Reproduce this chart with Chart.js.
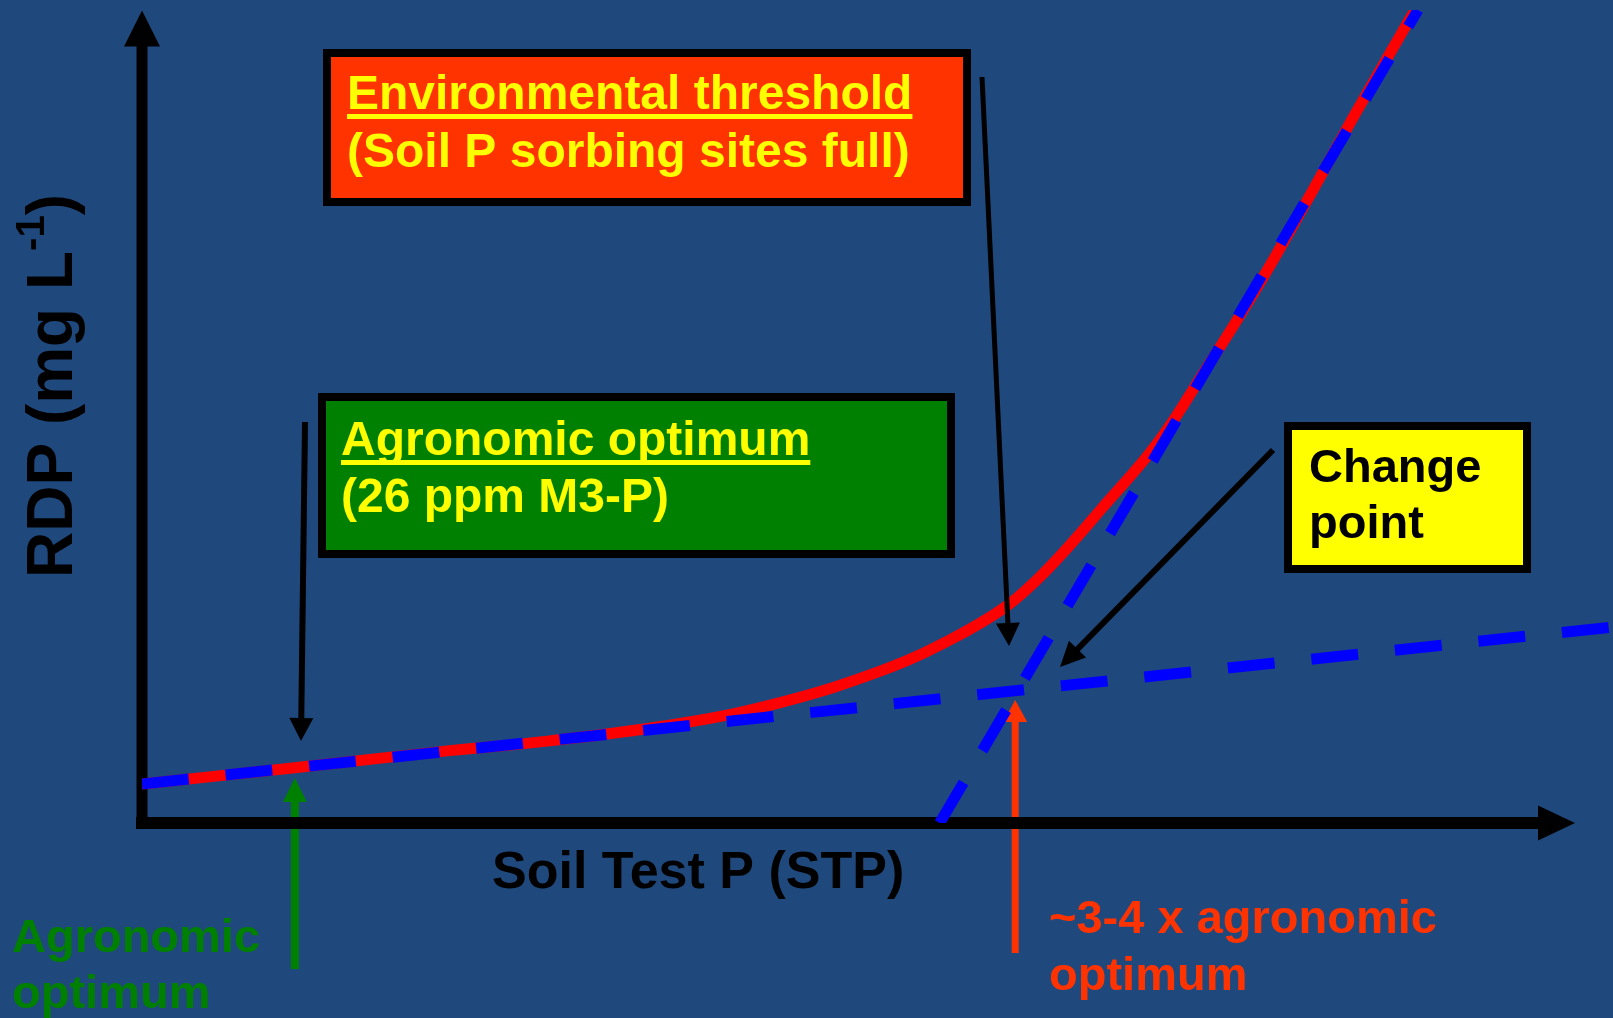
<!DOCTYPE html>
<html>
<head>
<meta charset="utf-8">
<script src="https://cdn.jsdelivr.net/npm/chart.js@4"></script>
<style>
  html, body { margin: 0; padding: 0; background: #1F497D; }
  canvas { display: block; }
</style>
</head>
<body>
<canvas id="c" width="1613" height="1018"></canvas>
<script>
// ---- Data (arbitrary conceptual units) ----
const curveX = [0, 15.6, 31.4, 41.6, 55.2, 65.4, 75.6, 82.4, 87.9, 91.3, 94.7, 97.8, 103.6, 108.7, 113.8, 118.9, 123.6, 129.9];
const curveY = [4.8, 6.8, 8.9, 10.1, 12.3, 14.9, 18.8, 22.5, 26.4, 29.9, 34.2, 38.5, 46.7, 56.1, 65.9, 76.6, 86.8, 100];
const lowerLineX = [0, 150];
const lowerLineY = [4.8, 24.1];
const steepLineX = [81.4, 130.2];
const steepLineY = [0, 100];
const agronomicOptimumX = 15.6;
const changePointX = 89.1;

const xLabel = 'Soil Test P (STP)';
const yLabelMain = 'RDP (mg L';
const yLabelSup = '-1';
const yLabelEnd = ')';

const toPts = (xs, ys) => xs.map((x, i) => ({ x: x, y: ys[i] }));

const FONT = '"Liberation Sans", Arial, sans-serif';

function arrow(ctx, x1, y1, x2, y2, color, shaftW, headLen, headHalf) {
  const dx = x2 - x1, dy = y2 - y1;
  const len = Math.hypot(dx, dy);
  const ux = dx / len, uy = dy / len;
  const bx = x2 - ux * headLen, by = y2 - uy * headLen;
  ctx.save();
  ctx.strokeStyle = color;
  ctx.fillStyle = color;
  ctx.lineWidth = shaftW;
  ctx.lineCap = 'butt';
  ctx.beginPath();
  ctx.moveTo(x1, y1);
  ctx.lineTo(bx + ux * 1, by + uy * 1);
  ctx.stroke();
  ctx.beginPath();
  ctx.moveTo(x2, y2);
  ctx.lineTo(bx - uy * headHalf, by + ux * headHalf);
  ctx.lineTo(bx + uy * headHalf, by - ux * headHalf);
  ctx.closePath();
  ctx.fill();
  ctx.restore();
}

function box(ctx, x1, y1, x2, y2, fill, bw) {
  ctx.save();
  ctx.fillStyle = fill;
  ctx.fillRect(x1, y1, x2 - x1, y2 - y1);
  ctx.strokeStyle = '#000000';
  ctx.lineWidth = bw;
  ctx.strokeRect(x1 + bw / 2, y1 + bw / 2, x2 - x1 - bw, y2 - y1 - bw);
  ctx.restore();
}

function text(ctx, str, x, y, size, color, underline) {
  ctx.save();
  ctx.font = 'bold ' + size + 'px ' + FONT;
  ctx.fillStyle = color;
  ctx.textBaseline = 'alphabetic';
  ctx.textAlign = 'left';
  ctx.fillText(str, x, y);
  if (underline) {
    const w = ctx.measureText(str).width;
    ctx.fillRect(x, y + 5, w, 5);
  }
  ctx.restore();
}

const backgroundPlugin = {
  id: 'bg',
  beforeDraw(chart) {
    const ctx = chart.ctx;
    ctx.save();
    ctx.fillStyle = '#1F497D';
    ctx.fillRect(0, 0, chart.width, chart.height);
    ctx.restore();
  },
  beforeDatasetsDraw(chart) {
    const ctx = chart.ctx;
    const a = chart.chartArea;
    const xs = chart.scales.x;
    // green arrow (agronomic optimum) and orange arrow (change point) under the axis
    const gx = xs.getPixelForValue(agronomicOptimumX);
    arrow(ctx, gx, 969, gx, 778, '#008000', 8, 24, 12);
    const ox = xs.getPixelForValue(changePointX);
    arrow(ctx, ox, 953, ox, 700, '#FF3300', 7, 22, 12);
    // axes
    arrow(ctx, a.left, a.bottom + 6, a.left, 10.5, '#000000', 11, 36, 18);
    arrow(ctx, a.left - 6, a.bottom, 1575, a.bottom, '#000000', 12, 37, 17.5);
  },
  afterDatasetsDraw(chart) {
    const ctx = chart.ctx;
    // black pointer arrows
    arrow(ctx, 982, 77, 1009, 646, '#000000', 5, 23, 12);
    arrow(ctx, 305, 422, 301, 741, '#000000', 6, 23, 12);
    arrow(ctx, 1273, 450, 1060, 667, '#000000', 6, 25, 12);

    // boxes
    box(ctx, 323, 49, 971, 206, '#FF3300', 8);
    text(ctx, 'Environmental threshold', 347, 109, 48, '#FFFF00', true);
    text(ctx, '(Soil P sorbing sites full)', 347, 167, 48, '#FFFF00', false);

    box(ctx, 318, 393, 955, 558, '#008000', 8);
    text(ctx, 'Agronomic optimum', 341, 455, 48, '#FFFF00', true);
    text(ctx, '(26 ppm M3-P)', 341, 512, 48, '#FFFF00', false);

    box(ctx, 1284, 422, 1531, 573, '#FFFF00', 8);
    text(ctx, 'Change', 1309, 482, 47, '#000000', false);
    text(ctx, 'point', 1309, 538, 47, '#000000', false);

    // axis titles
    text(ctx, xLabel, 492, 888, 52, '#000000', false);

    ctx.save();
    ctx.translate(72, 578);
    ctx.rotate(-Math.PI / 2);
    ctx.fillStyle = '#000000';
    ctx.textBaseline = 'alphabetic';
    ctx.font = 'bold 64px ' + FONT;
    ctx.fillText(yLabelMain, 0, 0);
    let w = ctx.measureText(yLabelMain).width;
    ctx.font = 'bold 40px ' + FONT;
    ctx.fillText(yLabelSup, w, -28);
    w += ctx.measureText(yLabelSup).width;
    ctx.font = 'bold 64px ' + FONT;
    ctx.fillText(yLabelEnd, w, 0);
    ctx.restore();

    // bottom notes
    text(ctx, 'Agronomic', 12, 952, 47, '#008000', false);
    text(ctx, 'optimum', 12, 1008, 47, '#008000', false);
    text(ctx, '~3-4 x agronomic', 1049, 933, 47, '#FF3300', false);
    text(ctx, 'optimum', 1049, 990, 47, '#FF3300', false);
  }
};

new Chart(document.getElementById('c'), {
  type: 'line',
  data: {
    datasets: [
      {
        label: 'Lower segment',
        data: toPts(lowerLineX, lowerLineY),
        borderColor: '#0000FF',
        borderWidth: 11,
        borderDash: [47, 37],
        borderCapStyle: 'butt',
        pointRadius: 0,
        fill: false,
        order: 1
      },
      {
        label: 'Upper segment',
        data: toPts(steepLineX, steepLineY),
        borderColor: '#0000FF',
        borderWidth: 11,
        borderDash: [47, 37],
        borderCapStyle: 'butt',
        pointRadius: 0,
        fill: false,
        order: 1
      },
      {
        label: 'RDP curve',
        data: toPts(curveX, curveY),
        borderColor: '#FF0000',
        borderWidth: 11,
        tension: 0.4,
        pointRadius: 0,
        fill: false,
        order: 2
      }
    ]
  },
  options: {
    responsive: false,
    animation: false,
    events: [],
    layout: { padding: { left: 142, right: 1, top: 10, bottom: 195 } },
    plugins: { legend: { display: false }, tooltip: { enabled: false }, title: { display: false } },
    scales: {
      x: { type: 'linear', min: 0, max: 150, display: false },
      y: { type: 'linear', min: 0, max: 100, display: false }
    }
  },
  plugins: [backgroundPlugin]
});
</script>
</body>
</html>
